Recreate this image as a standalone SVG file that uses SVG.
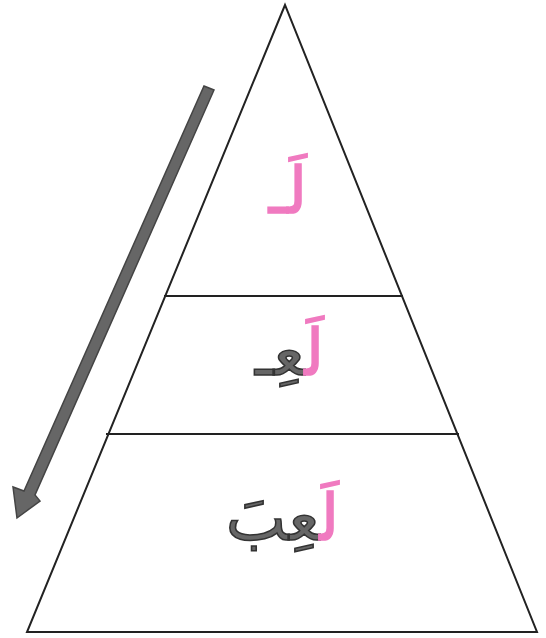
<svg xmlns="http://www.w3.org/2000/svg" width="546" height="638" viewBox="0 0 546 638">
<style>
.ln{stroke:#222;stroke-width:2;fill:none}
.ar{font-family:"DejaVu Sans",sans-serif;font-size:64px;fill:#666;stroke:#333;stroke-width:1.6}
.pk{fill:#f07ac0;stroke:#f07ac0;stroke-width:1.6}
</style>
<rect width="546" height="638" fill="#fff"/>
<g id="pyramid">
<polygon class="ln" points="285,5 27,632 537,632"/>
<line class="ln" x1="164" y1="296" x2="403" y2="296"/>
<line class="ln" x1="106" y1="434" x2="459" y2="434"/>
</g>
<g id="connectors">
<polygon fill="#666" stroke="#444" stroke-width="1.5" points="204,86 214,90 35,495 40,501 17,518 13,487 24,491"/>
</g>
<g id="level1"><text class="ar" direction="rtl" x="307" y="213" text-anchor="start"><tspan class="pk">لَـ</tspan></text></g>
<g id="level2"><text class="ar" direction="rtl" x="324" y="375" text-anchor="start"><tspan class="pk">لَ</tspan>عِـ</text></g>
<g id="level3"><text class="ar" direction="rtl" x="339" y="540" text-anchor="start"><tspan class="pk">لَ</tspan>عِبَ</text></g>
</svg>
